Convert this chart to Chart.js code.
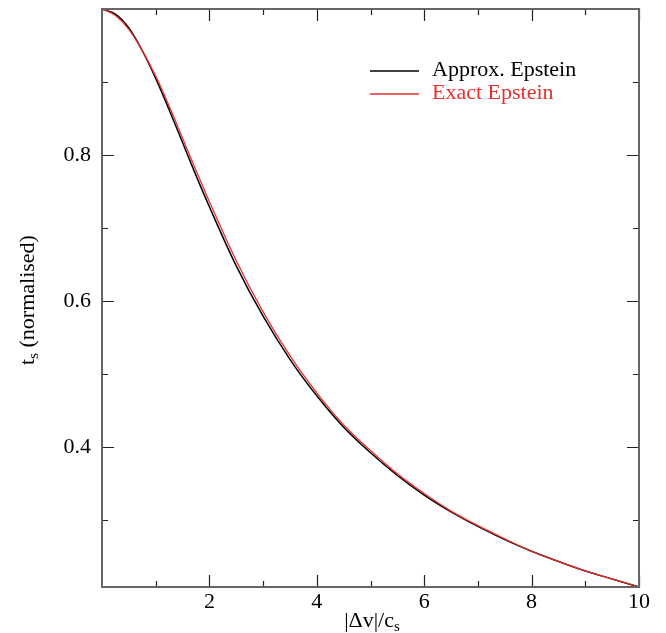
<!DOCTYPE html>
<html>
<head>
<meta charset="utf-8">
<script src="https://cdn.jsdelivr.net/npm/chart.js@4.4.0/dist/chart.umd.min.js"></script>
<style>
  body { margin: 0; background: #fff; }
  #wrap { width: 666px; height: 633px; }
</style>
</head>
<body>
<div id="wrap"><canvas id="myChart"></canvas></div>
<script>
// values
var velocity = [0, 0.25, 0.5, 0.75, 1, 1.25, 1.5, 1.75, 2, 2.5, 3, 3.5, 4, 4.5, 5, 5.5, 6, 6.5, 7, 7.5, 8, 8.5, 9, 9.5, 10];
var approxEpstein = [1.000, 0.993, 0.974, 0.943, 0.905, 0.862, 0.817, 0.772, 0.729, 0.648, 0.579, 0.520, 0.470, 0.427, 0.392, 0.361, 0.334, 0.311, 0.291, 0.273, 0.257, 0.243, 0.230, 0.219, 0.208];
var exactEpstein  = [1.000, 0.991, 0.972, 0.943, 0.908, 0.867, 0.823, 0.779, 0.736, 0.655, 0.585, 0.525, 0.474, 0.430, 0.395, 0.363, 0.336, 0.312, 0.292, 0.274, 0.257, 0.243, 0.230, 0.219, 0.208];
var xTicks = [2, 4, 6, 8, 10];
var yTicks = [0.4, 0.6, 0.8];
var xMinorTicks = [1, 3, 5, 7, 9];
var yMinorTicks = [0.3, 0.5, 0.7, 0.9];

var serif = '"Liberation Serif", "Times New Roman", serif';
var red = '#e8302e';
var fs = 22;

function points(xs, ys) {
    return xs.map(function (x, i) { return { x: x, y: ys[i] }; });
}

// frame + inward ticks on all four sides
var framePlugin = {
    id: 'frame',
    afterDatasetsDraw: function (chart) {
        var ctx = chart.ctx, a = chart.chartArea;
        var xs = chart.scales.x, ys = chart.scales.y;
        ctx.save();
        ctx.strokeStyle = '#222';
        ctx.lineWidth = 1.2;
        ctx.beginPath();
        xTicks.concat(xMinorTicks).forEach(function (v) {
            var len = xTicks.indexOf(v) >= 0 ? 12 : 6;
            var px = Math.round(xs.getPixelForValue(v)) + 0.5;
            ctx.moveTo(px, a.bottom); ctx.lineTo(px, a.bottom - len);
            ctx.moveTo(px, a.top); ctx.lineTo(px, a.top + len);
        });
        yTicks.concat(yMinorTicks).forEach(function (v) {
            var len = yTicks.indexOf(v) >= 0 ? 12 : 6;
            var py = Math.round(ys.getPixelForValue(v)) + 0.5;
            ctx.moveTo(a.left, py); ctx.lineTo(a.left + len, py);
            ctx.moveTo(a.right, py); ctx.lineTo(a.right - len, py);
        });
        ctx.stroke();
        ctx.strokeStyle = '#666';
        ctx.lineWidth = 2;
        ctx.strokeRect(a.left, a.top, a.right - a.left, a.bottom - a.top);
        ctx.restore();
    }
};

// text with a subscript part
function drawSub(ctx, main, sub, x, y, size) {
    ctx.font = size + 'px ' + serif;
    ctx.fillText(main, x, y);
    var w = ctx.measureText(main).width;
    ctx.font = Math.round(size * 0.7) + 'px ' + serif;
    ctx.fillText(sub, x + w, y + size * 0.2);
    return w + ctx.measureText(sub).width;
}

var labelPlugin = {
    id: 'labels',
    afterDraw: function (chart) {
        var ctx = chart.ctx;
        var subFs = Math.round(fs * 0.7);
        ctx.save();
        ctx.fillStyle = '#000';
        ctx.textBaseline = 'alphabetic';
        ctx.textAlign = 'left';

        // x title: |Δv|/c_s
        ctx.font = fs + 'px ' + serif;
        var w1 = ctx.measureText('|Δv|/c').width;
        ctx.font = subFs + 'px ' + serif;
        var total = w1 + ctx.measureText('s').width;
        drawSub(ctx, '|Δv|/c', 's', 372 - total / 2, 627, fs);

        // y title: t_s (normalised)
        ctx.translate(34, 300);
        ctx.rotate(-Math.PI / 2);
        ctx.font = fs + 'px ' + serif;
        var wt = ctx.measureText('t').width;
        ctx.font = subFs + 'px ' + serif;
        var ws = ctx.measureText('s').width;
        ctx.font = fs + 'px ' + serif;
        var wr = ctx.measureText(' (normalised)').width;
        var x0 = -(wt + ws + wr) / 2;
        var w = drawSub(ctx, 't', 's', x0, 0, fs);
        ctx.font = fs + 'px ' + serif;
        ctx.fillText(' (normalised)', x0 + w, 0);
        ctx.restore();

        // legend
        ctx.save();
        ctx.font = fs + 'px ' + serif;
        ctx.lineWidth = 1.5;
        chart.data.datasets.forEach(function (ds, i) {
            var y = 71 + i * 23;
            ctx.strokeStyle = ds.borderColor;
            ctx.beginPath();
            ctx.moveTo(370, y); ctx.lineTo(419, y);
            ctx.stroke();
            ctx.fillStyle = ds.borderColor;
            ctx.fillText(ds.label, 432, y + 5);
        });
        ctx.restore();
    }
};

var ctx = document.getElementById('myChart').getContext('2d');
var myChart = new Chart(ctx, {
    type: 'line',
    data: {
        datasets: [{
            label: 'Approx. Epstein',
            data: points(velocity, approxEpstein),
            borderColor: '#000',
            borderWidth: 1.5,
            pointRadius: 0,
            cubicInterpolationMode: 'monotone',
            clip: false,
            order: 1
        }, {
            label: 'Exact Epstein',
            data: points(velocity, exactEpstein),
            borderColor: red,
            borderWidth: 1.3,
            pointRadius: 0,
            cubicInterpolationMode: 'monotone',
            clip: false,
            order: 0
        }]
    },
    options: {
        responsive: true,
        maintainAspectRatio: false,
        animation: false,
        layout: { padding: { top: 9, right: 27, left: 0, bottom: 0 } },
        plugins: {
            legend: { display: false },
            tooltip: { enabled: false }
        },
        scales: {
            x: {
                type: 'linear',
                min: 0,
                max: 10,
                grid: { display: false, drawTicks: false },
                border: { display: false },
                afterBuildTicks: function (scale) {
                    scale.ticks = xTicks.map(function (v) { return { value: v }; });
                },
                afterFit: function (scale) {
                    scale.height = 46;
                    scale.paddingLeft = 0;
                    scale.paddingRight = 0;
                },
                ticks: {
                    color: '#000',
                    font: { family: serif, size: fs },
                    padding: 2,
                    maxRotation: 0,
                    callback: function (v) { return String(v); }
                }
            },
            y: {
                type: 'linear',
                min: 0.208,
                max: 1.0,
                grid: { display: false, drawTicks: false },
                border: { display: false },
                afterBuildTicks: function (scale) {
                    scale.ticks = yTicks.map(function (v) { return { value: v }; });
                },
                afterFit: function (scale) {
                    scale.width = 102;
                    scale.paddingTop = 0;
                    scale.paddingBottom = 0;
                },
                ticks: {
                    color: '#000',
                    font: { family: serif, size: fs },
                    padding: 11,
                    callback: function (v) { return v.toFixed(1); }
                }
            }
        }
    },
    plugins: [framePlugin, labelPlugin]
});
</script>
</body>
</html>
